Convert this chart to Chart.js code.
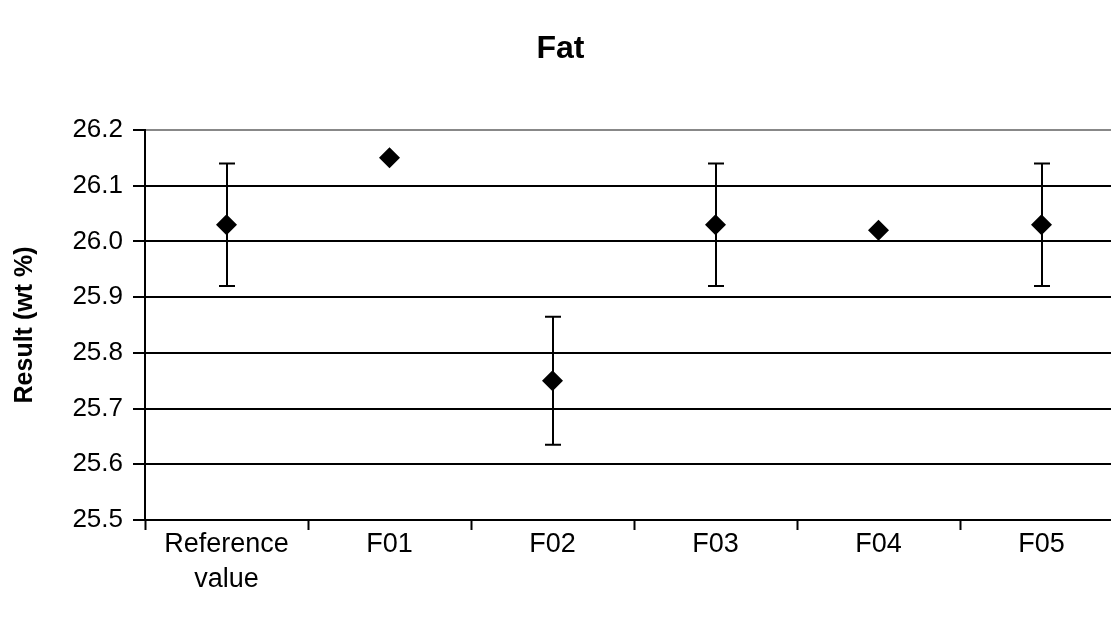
<!DOCTYPE html>
<html>
<head>
<meta charset="utf-8">
<script src="https://cdn.jsdelivr.net/npm/chart.js@4"></script>
<style>
  html, body { margin: 0; padding: 0; background: #ffffff; overflow: hidden; }
  #wrap { width: 1111px; height: 618px; }
</style>
</head>
<body>
<div id="wrap"><canvas id="c" width="1111" height="618"></canvas></div>
<script>
const categories = [['Reference', 'value'], 'F01', 'F02', 'F03', 'F04', 'F05'];
const results = [26.03, 26.15, 25.75, 26.03, 26.02, 26.03];
const errorsUp = [0.11, 0, 0.115, 0.11, 0, 0.11];
const errorsDown = [0.11, 0, 0.115, 0.11, 0, 0.11];
const yTicks = [25.5, 25.6, 25.7, 25.8, 25.9, 26.0, 26.1, 26.2];

const FONT = "'Liberation Sans', Arial, sans-serif";

// The original plot area runs a little past the right edge of the picture.
const EXTEND_RIGHT = 12;
function applyExtend(chart) {
  const x = chart.scales.x;
  const target = chart.width + EXTEND_RIGHT;
  if (Math.abs(x.right - target) > 0.01) {
    x.right = target;
    x.width = x.right - x.left;
    chart.chartArea.right = target;
    chart.chartArea.width = target - chart.chartArea.left;
    x.configure();
    x._gridLineItems = null;
    x._labelItems = null;
    chart.scales.y._gridLineItems = null;
  }
}
const extendArea = {
  id: 'extendArea',
  afterLayout(chart) { applyExtend(chart); },
  beforeDatasetsUpdate(chart) { applyExtend(chart); },
  beforeDraw(chart) { applyExtend(chart); }
};

const errorBars = {
  id: 'errorBars',
  beforeDatasetsDraw(chart) {
    const ctx = chart.ctx;
    const meta = chart.getDatasetMeta(0);
    const y = chart.scales.y;
    ctx.save();
    ctx.strokeStyle = '#000';
    ctx.lineWidth = 2;
    meta.data.forEach((pt, i) => {
      const up = errorsUp[i], dn = errorsDown[i];
      if (!up && !dn) return;
      const x = Math.round(pt.x);
      const yTop = y.getPixelForValue(results[i] + up);
      const yBot = y.getPixelForValue(results[i] - dn);
      ctx.beginPath();
      ctx.moveTo(x, yTop); ctx.lineTo(x, yBot);
      ctx.moveTo(x - 8, yTop); ctx.lineTo(x + 8, yTop);
      ctx.moveTo(x - 8, yBot); ctx.lineTo(x + 8, yBot);
      ctx.stroke();
    });
    ctx.restore();
  }
};

new Chart(document.getElementById('c'), {
  type: 'line',
  data: {
    labels: categories,
    datasets: [{
      data: results,
      showLine: false,
      pointStyle: 'rectRot',
      pointRadius: 10.5,
      pointHoverRadius: 10.5,
      pointBackgroundColor: '#000',
      pointBorderColor: '#000',
      pointBorderWidth: 0
    }]
  },
  plugins: [extendArea, errorBars],
  options: {
    responsive: false,
    animation: false,
    events: [],
    layout: { padding: { left: 10, right: 0, top: 0, bottom: 0 } },
    plugins: {
      legend: { display: false },
      tooltip: { enabled: false },
      title: {
        display: true,
        text: 'Fat',
        color: '#000',
        font: { family: FONT, size: 32, weight: 'bold', lineHeight: 1.2 },
        padding: { top: 30, bottom: 61.6 }
      }
    },
    scales: {
      x: {
        type: 'category',
        offset: true,
        afterFit(s) { s.height = 98; },
        grid: {
          offset: true,
          drawOnChartArea: false,
          drawTicks: true,
          tickLength: 10,
          tickWidth: 2,
          tickColor: '#000'
        },
        border: { display: true, color: '#000', width: 2 },
        ticks: {
          color: '#000',
          padding: -3,
          maxRotation: 0,
          autoSkip: false,
          font: { family: FONT, size: 27, lineHeight: 1.3 }
        }
      },
      y: {
        min: 25.5,
        max: 26.2,
        afterFit(s) { s.width = 135; },
        afterBuildTicks(s) { s.ticks = yTicks.map(v => ({ value: v })); },
        grid: {
          color: (c) => (c.tick && Math.abs(c.tick.value - 26.2) < 1e-9) ? '#888' : '#000',
          lineWidth: 2,
          drawTicks: true,
          tickLength: 12,
          tickColor: '#000',
          tickWidth: 2
        },
        border: { display: true, color: '#000', width: 2 },
        ticks: {
          color: '#000',
          padding: 10,
          font: { family: FONT, size: 26 },
          callback: (v) => Number(v).toFixed(1)
        },
        title: {
          display: true,
          text: 'Result (wt %)',
          color: '#000',
          font: { family: FONT, size: 25, weight: 'bold', lineHeight: 1.2 },
          padding: { top: 0, bottom: 0 }
        }
      }
    }
  }
});
</script>
</body>
</html>
